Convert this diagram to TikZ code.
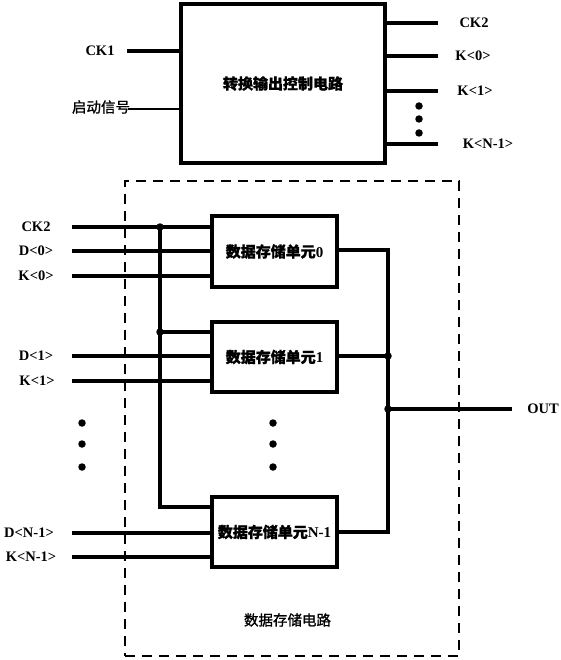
\documentclass[tikz,border=0pt]{standalone}
\usepackage{fontspec}
\setmainfont{Liberation Serif}
\newfontfamily\cjk[FakeBold=1.2]{Noto Sans CJK SC}
\begin{document}
\begin{tikzpicture}[x=1pt,y=-1pt,
  wire/.style={line width=3.4pt},
  box/.style={draw,line width=3.4pt,inner sep=0pt,font=\fontsize{15}{18}\selectfont\bfseries},
  lbl/.style={font=\fontsize{14.5}{16}\selectfont\bfseries,inner sep=1pt},
  cjklbl/.style={font=\fontsize{14.5}{17}\selectfont\cjk,inner sep=1pt},
  dot/.style={circle,fill,inner sep=0pt,minimum size=7.5pt}]
\useasboundingbox (0,0) rectangle (560,660);

% control circuit
\node[box,minimum width=204pt,minimum height=159pt] (ctrl) at (283,83.5) {{\cjk 转换输出控制电路}};
\coordinate (ck1s) at (127,51);
\draw[wire,line width=4pt] (ck1s) -- (ck1s -| ctrl.west);
\node[lbl] (ck1l) at (100,51) {CK1};
\coordinate (qds) at (128,109);
\draw[line width=2.6pt] (qds) -- (qds -| ctrl.west);
\node[cjklbl] (qdl) at (101,107) {启动信号};

\coordinate (ock2) at (438,23);
\coordinate (ok0) at (438,56);
\coordinate (ok1) at (438,91);
\coordinate (okn) at (438,144);
\draw[wire] (ctrl.east |- ock2) -- (ock2);
\draw[wire] (ctrl.east |- ok0) -- (ok0);
\draw[wire] (ctrl.east |- ok1) -- (ok1);
\draw[wire] (ctrl.east |- okn) -- (okn);
\node[lbl] (ock2l) at (474,23) {CK2};
\node[lbl] (ok0l) at (473,56) {K<0>};
\node[lbl] (ok1l) at (475,91) {K<1>};
\node[lbl] (oknl) at (488,144) {K<N-1>};
\node[dot] (td1) at (419,106) {};
\node[dot] (td2) at (419,119) {};
\node[dot] (td3) at (419,133) {};

% data storage circuit
\node[draw,dash pattern=on 10pt off 7pt,line width=2.2pt,minimum width=334pt,minimum height=475pt,inner sep=0pt] (dsc) at (292,418.5) {};
\node[cjklbl] (dscl) at (287.5,620) {数据存储电路};

\node[box,minimum width=125pt,minimum height=71pt] (c0) at (274.5,251.5) {{\cjk 数据存储单元}0};
\node[box,minimum width=125pt,minimum height=70pt] (c1) at (274.5,357) {{\cjk 数据存储单元}1};
\node[box,minimum width=125pt,minimum height=70pt] (cn) at (274.5,532) {{\cjk 数据存储单元}N-1};

% inputs
\coordinate (ick2) at (72,227);
\coordinate (id0) at (72,251);
\coordinate (ik0) at (72,276);
\coordinate (id1) at (72,356);
\coordinate (ik1) at (72,381);
\coordinate (idn) at (72,533);
\coordinate (ikn) at (72,557);
\draw[wire] (ick2) -- (ick2 -| c0.west);
\draw[wire] (id0) -- (id0 -| c0.west);
\draw[wire] (ik0) -- (ik0 -| c0.west);
\draw[wire] (id1) -- (id1 -| c1.west);
\draw[wire] (ik1) -- (ik1 -| c1.west);
\draw[wire] (idn) -- (idn -| cn.west);
\draw[wire] (ikn) -- (ikn -| cn.west);
\node[lbl] (ick2l) at (36,227) {CK2};
\node[lbl] (id0l) at (36,251) {D<0>};
\node[lbl] (ik0l) at (36,276) {K<0>};
\node[lbl] (id1l) at (36,356) {D<1>};
\node[lbl] (ik1l) at (37,381) {K<1>};
\node[lbl] (idnl) at (29,533) {D<N-1>};
\node[lbl] (iknl) at (31,557) {K<N-1>};

% clock bus
\coordinate (b0) at (160,227);
\coordinate (b1) at (160,332);
\coordinate (bn) at (160,507);
\draw[wire] (b0) -- (bn) -- (bn -| cn.west);
\draw[wire] (b1) -- (b1 -| c1.west);
\node[dot] (b0d) at (b0) {};
\node[dot] (b1d) at (b1) {};

% output bus
\coordinate (o0) at (388,250);
\coordinate (o1) at (388,356);
\coordinate (oj) at (388,409);
\coordinate (on) at (388,532);
\coordinate (oe) at (512,409);
\draw[wire] (c0.east |- o0) -- (o0) -- (on) -- (cn.east |- on);
\draw[wire] (c1.east |- o1) -- (o1);
\draw[wire] (oj) -- (oe);
\node[dot] (o1d) at (o1) {};
\node[dot] (ojd) at (oj) {};
\node[lbl] (outl) at (543,409) {OUT};

% ellipsis dots
\node[dot] (ld1) at (82,423) {};
\node[dot] (ld2) at (82,444) {};
\node[dot] (ld3) at (82,467) {};
\node[dot] (md1) at (273,423) {};
\node[dot] (md2) at (273,444) {};
\node[dot] (md3) at (273,467) {};
\end{tikzpicture}
\end{document}
